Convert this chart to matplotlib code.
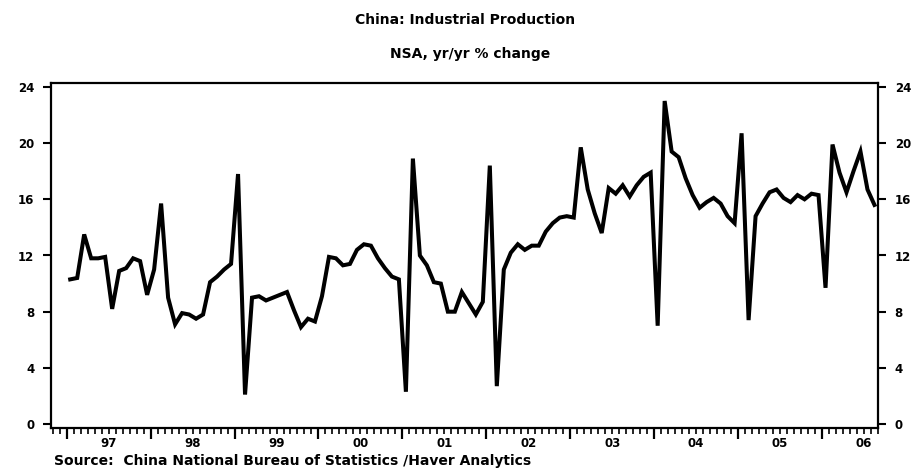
import matplotlib
matplotlib.use("Agg")
import matplotlib.pyplot as plt
from matplotlib.ticker import FixedLocator, NullFormatter

plt.rcParams["font.family"] = ["DejaVu Sans"]
plt.rcParams["font.weight"] = "bold"

# monthly yr/yr % change, Jan 1997 .. Aug 2006
start_year = 1997
ip_yoy = [
    10.3, 10.4, 13.5, 11.8, 11.8, 11.9, 8.2, 10.9, 11.1, 11.8, 11.6, 9.2,   # 1997
    11.0, 15.7, 9.0, 7.1, 7.9, 7.8, 7.5, 7.8, 10.1, 10.5, 11.0, 11.4,       # 1998
    17.8, 2.1, 9.0, 9.1, 8.8, 9.0, 9.2, 9.4, 8.1, 6.9, 7.5, 7.3,            # 1999
    9.1, 11.9, 11.8, 11.3, 11.4, 12.4, 12.8, 12.7, 11.8, 11.1, 10.5, 10.3,  # 2000
    2.3, 18.9, 12.0, 11.3, 10.1, 10.0, 8.0, 8.0, 9.4, 8.6, 7.8, 8.7,        # 2001
    18.4, 2.7, 11.0, 12.2, 12.8, 12.4, 12.7, 12.7, 13.7, 14.3, 14.7, 14.8,  # 2002
    14.7, 19.7, 16.7, 15.0, 13.6, 16.8, 16.4, 17.0, 16.2, 17.0, 17.6, 17.9, # 2003
    7.0, 23.0, 19.4, 19.0, 17.5, 16.3, 15.4, 15.8, 16.1, 15.7, 14.8, 14.3,  # 2004
    20.7, 7.4, 14.8, 15.7, 16.5, 16.7, 16.1, 15.8, 16.3, 16.0, 16.4, 16.3,  # 2005
    9.7, 19.9, 17.9, 16.5, 18.0, 19.4, 16.7, 15.6,                          # 2006
]
year_labels = ["97", "98", "99", "00", "01", "02", "03", "04", "05", "06"]
y_ticks = [0, 4, 8, 12, 16, 20, 24]

title = "China: Industrial Production"
subtitle = "NSA, yr/yr % change"
source = "Source:  China National Bureau of Statistics /Haver Analytics"

x = [start_year + (i + 0.5) / 12 for i in range(len(ip_yoy))]

fig = plt.figure(figsize=(9.17, 4.69), dpi=100)
ax = fig.add_axes([51 / 917, 1 - 428 / 469, (878 - 51) / 917, (428 - 83) / 469])

ax.plot(x, ip_yoy, color="black", linewidth=2.9, solid_joinstyle="miter")

ax.set_xlim(1996.813, 2006.667)
ax.set_ylim(-0.28, 24.28)

# y axis on both sides
ax.set_yticks(y_ticks)
ax.set_yticklabels([str(v) for v in y_ticks])
ax.tick_params(axis="y", which="major", direction="out", length=6, width=1.5,
               labelsize=8.5, pad=6, left=True, right=True,
               labelleft=True, labelright=True)

# x axis: year ticks, monthly minor ticks, labels at mid-year
years = list(range(start_year, start_year + len(year_labels)))
ax.xaxis.set_major_locator(FixedLocator(years))
ax.xaxis.set_major_formatter(NullFormatter())
months = [start_year - 1 + m / 12 for m in range(10, 12 * (len(year_labels) + 1))
          if m % 12 != 0]
ax.xaxis.set_minor_locator(FixedLocator(months))
ax.tick_params(axis="x", which="major", direction="out", length=8, width=1.6)
ax.tick_params(axis="x", which="minor", direction="out", length=4, width=1.2)

for yr, lab in zip(years, year_labels):
    ax.text(yr + 0.5, -0.044, lab, transform=ax.get_xaxis_transform(),
            ha="center", va="center", fontsize=8.5, fontweight="bold")

for s in ax.spines.values():
    s.set_linewidth(1.6)

fig.text(465 / 917, 1 - 19.5 / 469, title,
         ha="center", va="center", fontsize=10, fontweight="bold")
fig.text(470 / 917, 1 - 54 / 469, subtitle,
         ha="center", va="center", fontsize=10, fontweight="bold")
fig.text(54 / 917, 1 - 461 / 469, source, ha="left", va="center",
         fontsize=10, fontweight="bold")

fig.savefig("out.png", dpi=100)
